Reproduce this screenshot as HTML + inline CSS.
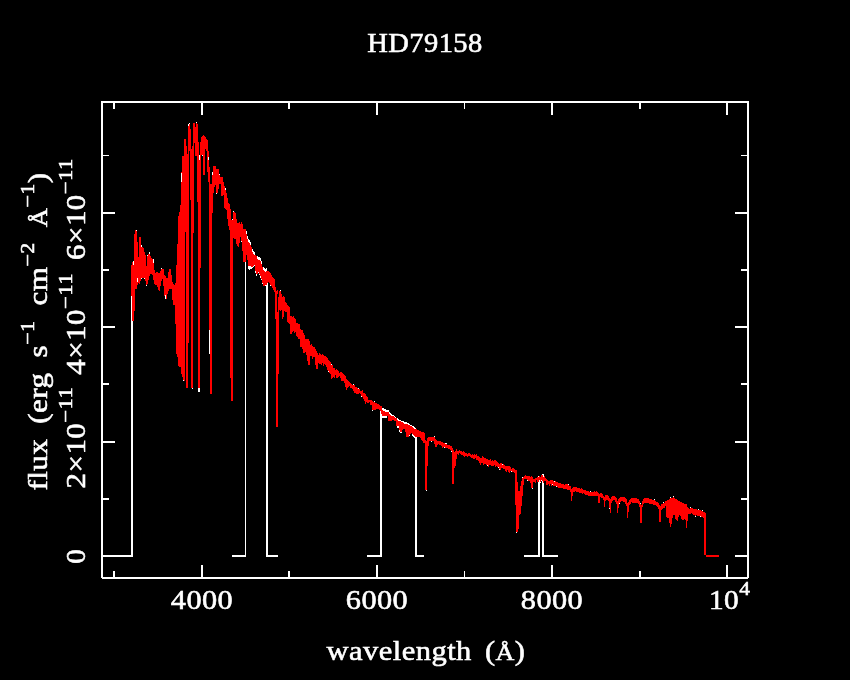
<!DOCTYPE html>
<html><head><meta charset="utf-8"><title>HD79158</title>
<style>
html,body{margin:0;padding:0;background:#000;}
body{width:850px;height:680px;overflow:hidden;}
svg{display:block;}
text{font-family:'Liberation Serif',serif;}
</style></head><body>
<svg width="850" height="680" viewBox="0 0 850 680">
<rect width="850" height="680" fill="#000"/>
<g shape-rendering="crispEdges">
<path fill="#fff" d="M101 101h648v2h-648zM101 577h648v2h-648zM101 101h2v478h-2zM747 101h2v478h-2zM113 571h2v6h-2zM113 103h2v6h-2zM201 565h2v12h-2zM201 103h2v12h-2zM288 571h2v6h-2zM288 103h2v6h-2zM376 565h2v12h-2zM376 103h2v12h-2zM464 571h1v6h-1zM464 103h1v6h-1zM551 565h2v12h-2zM551 103h2v12h-2zM639 571h2v6h-2zM639 103h2v6h-2zM726 565h2v12h-2zM726 103h2v12h-2zM103 555h12v2h-12zM735 555h12v2h-12zM103 498h6v2h-6zM741 498h6v2h-6zM103 441h12v2h-12zM735 441h12v2h-12zM103 383h6v2h-6zM741 383h6v2h-6zM103 326h12v2h-12zM735 326h12v2h-12zM103 269h6v2h-6zM741 269h6v2h-6zM103 212h12v2h-12zM735 212h12v2h-12zM103 155h6v1h-6zM741 155h6v1h-6z"/>
<path fill="#000" d="M748 578h1v1h-1zM101 578h1v1h-1z"/>
<path fill="#fff" d="M102 555h31v2h-31zM131 296h2v261h-2zM232 555h14v2h-14zM245 250h1v307h-1zM266 555h12v2h-12zM266 282h2v275h-2zM367 555h15v2h-15zM380 408h2v149h-2zM415 555h9v2h-9zM415 434h2v123h-2zM524 555h16v2h-16zM538 476h2v81h-2zM542 555h16v2h-16zM542 474h2v83h-2zM382 408h1v3h-1zM383 408h1v4h-1zM384 409h1v3h-1zM385 409h1v4h-1zM386 410h1v3h-1zM387 410h1v3h-1zM388 410h1v3h-1zM389 412h1v3h-1zM390 413h1v3h-1zM391 414h1v3h-1zM392 415h1v2h-1zM393 415h1v2h-1zM394 416h1v2h-1zM395 417h1v2h-1zM396 418h1v1h-1zM397 418h1v3h-1zM398 419h1v3h-1zM399 420h1v2h-1zM400 420h1v2h-1zM401 421h1v2h-1zM402 421h1v2h-1zM403 421h1v3h-1zM404 422h1v3h-1zM405 422h1v3h-1zM406 422h1v3h-1zM407 423h1v2h-1zM408 423h1v3h-1zM409 424h1v2h-1zM410 425h1v2h-1zM411 425h1v2h-1zM412 426h1v2h-1zM413 426h1v3h-1zM414 427h1v3h-1zM415 428h1v2h-1zM416 429h1v1h-1zM382 415h1v3h-1zM383 415h1v3h-1zM384 415h1v3h-1zM385 415h1v3h-1zM386 415h1v3h-1zM397 425h1v3h-1zM398 425h1v3h-1zM399 429h1v3h-1zM400 431h1v2h-1zM401 431h1v2h-1zM412 433h1v3h-1zM413 434h1v3h-1zM414 435h1v3h-1zM415 436h1v3h-1zM416 436h1v3h-1zM246 231h1v4h-1zM247 236h1v4h-1zM248 239h1v4h-1zM249 240h1v4h-1zM250 242h1v4h-1zM252 249h1v4h-1zM253 251h1v4h-1zM254 252h1v4h-1zM257 256h1v4h-1zM258 257h1v4h-1zM259 257h1v4h-1zM260 258h1v4h-1zM261 261h1v4h-1zM263 267h1v4h-1zM264 268h1v4h-1zM265 269h1v4h-1zM266 268h1v4h-1zM248 265h1v4h-1zM249 265h1v5h-1zM250 265h1v4h-1zM251 266h1v3h-1zM252 266h1v2h-1zM253 265h1v2h-1zM255 270h1v3h-1zM256 273h1v3h-1zM258 271h1v2h-1zM259 273h1v2h-1zM260 275h1v3h-1zM261 278h1v2h-1zM262 282h1v2h-1zM136 230h1v2h-1zM141 277h1v2h-1zM144 277h1v2h-1zM146 284h1v2h-1zM147 255h1v2h-1zM161 268h1v2h-1zM183 379h1v2h-1zM189 123h1v2h-1zM192 387h1v2h-1zM202 154h1v2h-1zM216 192h1v2h-1zM219 174h1v2h-1zM232 219h1v2h-1zM233 211h1v2h-1zM241 240h1v2h-1zM254 264h1v2h-1zM260 260h1v2h-1zM265 284h1v2h-1zM270 284h1v2h-1zM280 290h1v2h-1zM328 370h1v2h-1zM331 364h1v2h-1zM353 384h1v2h-1zM358 388h1v2h-1zM361 395h1v2h-1zM372 409h1v2h-1zM374 401h1v2h-1zM385 415h1v2h-1zM390 414h1v2h-1zM409 434h1v2h-1zM415 428h1v2h-1zM426 489h1v2h-1zM431 440h1v2h-1zM434 436h1v2h-1zM444 446h1v2h-1zM445 443h1v2h-1zM446 443h1v2h-1zM451 450h1v2h-1zM487 464h1v2h-1zM498 466h1v2h-1zM499 468h1v2h-1zM502 464h1v2h-1zM511 470h1v2h-1zM516 531h1v2h-1zM522 477h1v2h-1zM527 479h1v2h-1zM532 487h1v2h-1zM540 481h1v2h-1zM541 479h1v2h-1zM543 476h1v2h-1zM552 483h1v2h-1zM554 481h1v2h-1zM556 485h1v2h-1zM568 484h1v2h-1zM590 491h1v2h-1zM609 507h1v2h-1zM619 502h1v2h-1zM640 503h1v2h-1zM654 499h1v2h-1zM663 502h1v2h-1zM670 497h1v2h-1zM673 496h1v2h-1zM690 507h1v2h-1zM695 515h1v2h-1zM698 509h1v2h-1zM700 515h1v2h-1zM702 510h1v2h-1zM209 326h1v28h-1zM198 388h2v4h-2z"/>
<path fill="#f00" d="M131 265v31h1v-31zM132 262v59h1v-59zM133 261v60h1v-60zM134 234v77h1v-77zM135 230v59h1v-59zM136 231v58h1v-58zM137 242v43h1v-43zM138 257v26h1v-26zM139 237v47h1v-47zM140 237v44h1v-44zM141 246v32h1v-32zM142 247v31h1v-31zM143 248v30h1v-30zM144 252v26h1v-26zM145 255v26h1v-26zM146 266v19h1v-19zM147 256v28h1v-28zM148 254v26h1v-26zM149 252v24h1v-24zM150 256v18h1v-18zM151 258v16h1v-16zM152 259v16h1v-16zM153 260v20h1v-20zM154 270v14h1v-14zM155 273v12h1v-12zM156 272v13h1v-13zM157 272v15h1v-15zM158 273v17h1v-17zM159 273v18h1v-18zM160 271v15h1v-15zM161 269v12h1v-12zM162 269v10h1v-10zM163 269v17h1v-17zM164 275v21h1v-21zM165 276v23h1v-23zM166 278v21h1v-21zM167 278v16h1v-16zM168 272v19h1v-19zM169 269v20h1v-20zM170 269v20h1v-20zM171 275v14h1v-14zM172 282v18h1v-18zM173 284v21h1v-21zM174 285v20h1v-20zM175 283v41h1v-41zM176 265v89h1v-89zM177 244v113h1v-113zM178 216v150h1v-150zM179 212v155h1v-155zM180 205v162h1v-162zM181 172v202h1v-202zM182 156v221h1v-221zM183 156v224h1v-224zM184 139v242h1v-242zM185 139v93h1v-93zM186 146v242h1v-242zM187 154v234h1v-234zM188 124v219h1v-219zM189 124v27h1v-27zM190 129v71h1v-71zM191 149v239h1v-239zM192 146v242h1v-242zM193 123v110h1v-110zM194 123v20h1v-20zM195 127v29h1v-29zM196 123v33h1v-33zM197 124v78h1v-78zM198 142v246h1v-246zM199 155v233h1v-233zM200 142v126h1v-126zM201 137v18h1v-18zM202 136v19h1v-19zM203 135v40h1v-40zM204 136v39h1v-39zM205 137v12h1v-12zM206 139v12h1v-12zM207 140v32h1v-32zM208 151v31h1v-31zM209 167v163h1v-163zM210 184v210h1v-210zM211 184v210h1v-210zM212 172v41h1v-41zM213 166v27h1v-27zM214 166v21h1v-21zM215 166v19h1v-19zM216 169v24h1v-24zM217 169v24h1v-24zM218 169v20h1v-20zM219 175v9h1v-9zM220 177v7h1v-7zM221 177v19h1v-19zM222 177v19h1v-19zM223 182v13h1v-13zM224 186v22h1v-22zM225 189v20h1v-20zM226 193v17h1v-17zM227 198v21h1v-21zM228 203v23h1v-23zM229 204v26h1v-26zM230 209v169h1v-169zM231 220v181h1v-181zM232 220v181h1v-181zM233 212v26h1v-26zM234 212v27h1v-27zM235 213v26h1v-26zM236 219v25h1v-25zM237 223v23h1v-23zM238 223v24h1v-24zM239 222v21h1v-21zM240 224v13h1v-13zM241 222v19h1v-19zM242 224v27h1v-27zM243 229v33h1v-33zM244 229v33h1v-33zM245 229v33h1v-33zM246 234v21h1v-21zM247 239v21h1v-21zM248 242v24h1v-24zM249 243v23h1v-23zM250 245v21h1v-21zM251 247v20h1v-20zM252 252v15h1v-15zM253 254v12h1v-12zM254 255v10h1v-10zM255 255v16h1v-16zM256 256v18h1v-18zM257 259v15h1v-15zM258 260v12h1v-12zM259 260v14h1v-14zM260 261v15h1v-15zM261 264v15h1v-15zM262 267v16h1v-16zM263 270v16h1v-16zM264 271v15h1v-15zM265 272v13h1v-13zM266 271v14h1v-14zM267 271v12h1v-12zM268 271v11h1v-11zM269 272v11h1v-11zM270 273v12h1v-12zM271 275v11h1v-11zM272 277v11h1v-11zM273 278v12h1v-12zM274 279v13h1v-13zM275 287v32h1v-32zM276 291v136h1v-136zM277 290v4h1v-4zM277 312v115h1v-115zM278 297v77h1v-77zM279 291v19h1v-19zM280 291v20h1v-20zM281 294v16h1v-16zM282 297v22h1v-22zM283 296v21h1v-21zM284 297v14h1v-14zM285 302v10h1v-10zM286 303v9h1v-9zM287 305v17h1v-17zM288 306v17h1v-17zM289 307v17h1v-17zM290 316v18h1v-18zM291 316v18h1v-18zM292 317v15h1v-15zM293 316v15h1v-15zM294 318v15h1v-15zM295 319v13h1v-13zM296 323v13h1v-13zM297 323v14h1v-14zM298 324v15h1v-15zM299 324v15h1v-15zM300 329v18h1v-18zM301 330v17h1v-17zM302 330v19h1v-19zM303 333v20h1v-20zM304 335v18h1v-18zM305 339v13h1v-13zM306 339v16h1v-16zM307 339v22h1v-22zM308 339v26h1v-26zM309 341v24h1v-24zM310 345v11h1v-11zM311 344v12h1v-12zM312 346v13h1v-13zM313 347v10h1v-10zM314 347v10h1v-10zM315 349v16h1v-16zM316 351v18h1v-18zM317 353v16h1v-16zM318 355v8h1v-8zM319 353v11h1v-11zM320 354v10h1v-10zM321 355v10h1v-10zM322 354v9h1v-9zM323 355v11h1v-11zM324 356v8h1v-8zM325 356v9h1v-9zM326 357v10h1v-10zM327 358v12h1v-12zM328 360v11h1v-11zM329 361v12h1v-12zM330 362v12h1v-12zM331 365v14h1v-14zM332 365v13h1v-13zM333 368v9h1v-9zM334 368v10h1v-10zM335 370v5h1v-5zM336 369v9h1v-9zM337 370v8h1v-8zM338 371v6h1v-6zM339 373v3h1v-3zM340 372v6h1v-6zM341 372v9h1v-9zM342 373v8h1v-8zM343 374v7h1v-7zM344 375v8h1v-8zM345 376v11h1v-11zM346 379v11h1v-11zM347 380v8h1v-8zM348 381v6h1v-6zM349 382v4h1v-4zM350 383v5h1v-5zM351 384v4h1v-4zM352 385v4h1v-4zM353 385v6h1v-6zM354 385v8h1v-8zM355 387v6h1v-6zM356 387v7h1v-7zM357 388v6h1v-6zM358 389v5h1v-5zM359 389v4h1v-4zM360 391v3h1v-3zM361 391v5h1v-5zM362 390v7h1v-7zM363 393v6h1v-6zM364 393v8h1v-8zM365 394v10h1v-10zM366 396v6h1v-6zM367 397v6h1v-6zM368 400v3h1v-3zM369 400v2h1v-2zM370 400v5h1v-5zM371 400v5h1v-5zM372 401v9h1v-9zM373 402v8h1v-8zM374 402v8h1v-8zM375 403v7h1v-7zM376 403v6h1v-6zM377 404v5h1v-5zM378 404v5h1v-5zM379 405v5h1v-5zM380 406v5h1v-5zM381 406v8h1v-8zM382 410v6h1v-6zM383 411v5h1v-5zM384 411v5h1v-5zM385 412v4h1v-4zM386 412v4h1v-4zM387 412v4h1v-4zM388 412v9h1v-9zM389 414v7h1v-7zM390 415v6h1v-6zM391 416v5h1v-5zM392 416v4h1v-4zM393 416v4h1v-4zM394 417v4h1v-4zM395 418v3h1v-3zM396 418v8h1v-8zM397 420v6h1v-6zM398 421v5h1v-5zM399 421v9h1v-9zM400 421v11h1v-11zM401 422v10h1v-10zM402 422v8h1v-8zM403 423v6h1v-6zM404 424v5h1v-5zM405 424v8h1v-8zM406 424v13h1v-13zM407 424v13h1v-13zM408 425v12h1v-12zM409 425v10h1v-10zM410 426v8h1v-8zM411 426v7h1v-7zM412 427v7h1v-7zM413 428v7h1v-7zM414 429v7h1v-7zM415 429v8h1v-8zM416 429v8h1v-8zM417 430v7h1v-7zM418 430v7h1v-7zM419 431v6h1v-6zM420 431v7h1v-7zM421 432v8h1v-8zM422 432v9h1v-9zM423 432v11h1v-11zM424 433v10h1v-10zM425 440v50h1v-50zM426 441v49h1v-49zM427 438v28h1v-28zM428 437v9h1v-9zM429 437v4h1v-4zM430 437v4h1v-4zM431 437v4h1v-4zM432 437v4h1v-4zM433 437v4h1v-4zM434 437v7h1v-7zM435 439v8h1v-8zM436 440v7h1v-7zM437 441v4h1v-4zM438 441v3h1v-3zM439 441v4h1v-4zM440 441v4h1v-4zM441 442v4h1v-4zM442 442v6h1v-6zM443 443v4h1v-4zM444 443v4h1v-4zM445 444v4h1v-4zM446 444v4h1v-4zM447 445v3h1v-3zM448 445v4h1v-4zM449 445v4h1v-4zM450 446v4h1v-4zM451 446v5h1v-5zM452 448v36h1v-36zM453 450v34h1v-34zM454 452v16h1v-16zM455 451v15h1v-15zM456 449v10h1v-10zM457 451v3h1v-3zM458 451v4h1v-4zM459 450v3h1v-3zM460 451v3h1v-3zM461 451v4h1v-4zM462 452v3h1v-3zM463 451v5h1v-5zM464 452v5h1v-5zM465 453v3h1v-3zM466 453v3h1v-3zM467 454v3h1v-3zM468 453v3h1v-3zM469 453v3h1v-3zM470 454v3h1v-3zM471 455v3h1v-3zM472 454v4h1v-4zM473 455v4h1v-4zM474 454v5h1v-5zM475 455v3h1v-3zM476 454v6h1v-6zM477 456v4h1v-4zM478 456v5h1v-5zM479 457v6h1v-6zM480 458v7h1v-7zM481 458v5h1v-5zM482 456v7h1v-7zM483 457v8h1v-8zM484 458v6h1v-6zM485 458v6h1v-6zM486 459v6h1v-6zM487 459v6h1v-6zM488 460v7h1v-7zM489 460v5h1v-5zM490 459v6h1v-6zM491 461v5h1v-5zM492 460v6h1v-6zM493 461v5h1v-5zM494 460v5h1v-5zM495 460v7h1v-7zM496 461v5h1v-5zM497 462v5h1v-5zM498 463v4h1v-4zM499 464v5h1v-5zM500 463v7h1v-7zM501 463v5h1v-5zM502 465v3h1v-3zM503 464v5h1v-5zM504 465v4h1v-4zM505 466v5h1v-5zM506 466v6h1v-6zM507 466v4h1v-4zM508 466v6h1v-6zM509 466v7h1v-7zM510 467v4h1v-4zM511 469v2h1v-2zM512 468v4h1v-4zM513 468v4h1v-4zM514 469v4h1v-4zM515 470v35h1v-35zM516 470v62h1v-62zM517 482v50h1v-50zM518 491v38h1v-38zM519 491v24h1v-24zM520 486v28h1v-28zM521 481v25h1v-25zM522 478v18h1v-18zM523 477v8h1v-8zM524 476v3h1v-3zM525 475v4h1v-4zM526 476v3h1v-3zM527 476v4h1v-4zM528 476v5h1v-5zM529 476v5h1v-5zM530 477v6h1v-6zM531 476v12h1v-12zM532 477v11h1v-11zM533 479v3h1v-3zM534 479v3h1v-3zM535 478v5h1v-5zM536 478v2h1v-2zM537 477v5h1v-5zM538 477v5h1v-5zM539 476v4h1v-4zM540 477v5h1v-5zM541 475v5h1v-5zM542 475v6h1v-6zM543 477v6h1v-6zM544 476v5h1v-5zM545 478v3h1v-3zM546 479v6h1v-6zM547 480v5h1v-5zM548 481v3h1v-3zM549 481v5h1v-5zM550 480v4h1v-4zM551 480v6h1v-6zM552 480v4h1v-4zM553 481v5h1v-5zM554 482v4h1v-4zM555 481v5h1v-5zM556 482v4h1v-4zM557 482v5h1v-5zM558 483v5h1v-5zM559 483v5h1v-5zM560 483v5h1v-5zM561 484v4h1v-4zM562 484v4h1v-4zM563 484v5h1v-5zM564 485v4h1v-4zM565 484v5h1v-5zM566 484v5h1v-5zM567 484v6h1v-6zM568 485v5h1v-5zM569 486v4h1v-4zM570 486v6h1v-6zM571 489v12h1v-12zM572 488v8h1v-8zM573 487v5h1v-5zM574 487v5h1v-5zM575 487v4h1v-4zM576 487v5h1v-5zM577 488v4h1v-4zM578 488v4h1v-4zM579 488v5h1v-5zM580 489v4h1v-4zM581 488v5h1v-5zM582 489v5h1v-5zM583 490v3h1v-3zM584 490v4h1v-4zM585 490v5h1v-5zM586 491v4h1v-4zM587 491v4h1v-4zM588 491v5h1v-5zM589 492v4h1v-4zM590 492v4h1v-4zM591 492v4h1v-4zM592 492v4h1v-4zM593 492v4h1v-4zM594 491v5h1v-5zM595 492v4h1v-4zM596 491v5h1v-5zM597 492v4h1v-4zM598 493v10h1v-10zM599 494v9h1v-9zM600 493v4h1v-4zM601 493v5h1v-5zM602 494v4h1v-4zM603 496v4h1v-4zM604 497v10h1v-10zM605 495v6h1v-6zM606 495v5h1v-5zM607 495v5h1v-5zM608 496v5h1v-5zM609 498v10h1v-10zM610 499v14h1v-14zM611 497v6h1v-6zM612 496v5h1v-5zM613 496v4h1v-4zM614 496v4h1v-4zM615 497v5h1v-5zM616 498v6h1v-6zM617 501v12h1v-12zM618 499v9h1v-9zM619 498v5h1v-5zM620 497v5h1v-5zM621 497v4h1v-4zM622 497v4h1v-4zM623 497v5h1v-5zM624 497v5h1v-5zM625 498v6h1v-6zM626 499v7h1v-7zM627 503v15h1v-15zM628 502v10h1v-10zM629 500v5h1v-5zM630 499v5h1v-5zM631 498v4h1v-4zM632 498v5h1v-5zM633 498v5h1v-5zM634 498v5h1v-5zM635 498v5h1v-5zM636 498v5h1v-5zM637 499v4h1v-4zM638 499v5h1v-5zM639 501v6h1v-6zM640 504v19h1v-19zM641 505v18h1v-18zM642 501v6h1v-6zM643 499v5h1v-5zM644 498v5h1v-5zM645 498v5h1v-5zM646 498v5h1v-5zM647 498v5h1v-5zM648 498v5h1v-5zM649 499v5h1v-5zM650 499v5h1v-5zM651 499v5h1v-5zM652 500v4h1v-4zM653 500v5h1v-5zM654 500v5h1v-5zM655 501v4h1v-4zM656 502v4h1v-4zM657 502v5h1v-5zM658 503v6h1v-6zM659 505v17h1v-17zM660 506v16h1v-16zM661 504v6h1v-6zM662 504v5h1v-5zM663 503v5h1v-5zM664 503v5h1v-5zM665 501v5h1v-5zM666 501v16h1v-16zM667 500v18h1v-18zM668 500v18h1v-18zM669 499v24h1v-24zM670 498v29h1v-29zM671 498v26h1v-26zM672 498v20h1v-20zM673 497v18h1v-18zM674 498v17h1v-17zM675 499v20h1v-20zM676 499v21h1v-21zM677 500v21h1v-21zM678 501v16h1v-16zM679 501v14h1v-14zM680 502v14h1v-14zM681 502v17h1v-17zM682 503v17h1v-17zM683 503v17h1v-17zM684 504v15h1v-15zM685 504v16h1v-16zM686 504v24h1v-24zM687 507v14h1v-14zM688 508v6h1v-6zM689 509v5h1v-5zM690 508v6h1v-6zM691 508v5h1v-5zM692 508v6h1v-6zM693 509v6h1v-6zM694 509v6h1v-6zM695 509v7h1v-7zM696 509v6h1v-6zM697 510v6h1v-6zM698 510v6h1v-6zM699 510v6h1v-6zM700 510v6h1v-6zM701 511v6h1v-6zM702 511v6h1v-6zM703 512v6h1v-6zM704 512v45h1v-45zM705 513v44h1v-44zM704 555h15v2h-15z"/>
<path fill="#fff" d="M188 124h1v2h-1zM196 122h1v1h-1zM199 155h1v5h-1zM208 157h1v3h-1zM212 172h1v3h-1zM225 188h1v2h-1zM181 173h1v9h-1zM133 261h1v4h-1zM141 245h1v2h-1zM149 252h1v2h-1zM153 259h1v4h-1zM137 278h1v4h-1zM165 295h1v4h-1z"/>
</g>
<g fill="#fff" stroke="#fff" stroke-width="0.55">
<g transform="translate(425 52.4) rotate(0) scale(1.0491 1)"><text id="title" x="0" y="0" font-size="27.2" text-anchor="middle" letter-spacing="0.4" word-spacing="0">HD79158</text></g>
<g transform="translate(202 608.5) rotate(0) scale(1.1436 1)"><text id="x4" x="0" y="0" font-size="26.5" text-anchor="middle" letter-spacing="0.4" word-spacing="0">4000</text></g>
<g transform="translate(377 608.5) rotate(0) scale(1.1436 1)"><text id="x6" x="0" y="0" font-size="26.5" text-anchor="middle" letter-spacing="0.4" word-spacing="0">6000</text></g>
<g transform="translate(552 608.5) rotate(0) scale(1.1436 1)"><text id="x8" x="0" y="0" font-size="26.5" text-anchor="middle" letter-spacing="0.4" word-spacing="0">8000</text></g>
<g transform="translate(729.7 608.5) rotate(0) scale(1.1063 1)"><text id="x10" x="0" y="0" font-size="26.5" text-anchor="middle" letter-spacing="0.4" word-spacing="0">10<tspan font-size="19.5" dy="-13.3">4</tspan><tspan dy="13.3" font-size="1">&#8203;</tspan></text></g>
<g transform="translate(426.0 659.5) rotate(0) scale(1.1113 1)"><text id="xl" x="0" y="0" font-size="27.5" text-anchor="middle" letter-spacing="0.4" word-spacing="4.5">wavelength (<tspan font-size="23.5">&#197;</tspan>)</text></g>
<g transform="translate(85.0 556.3) rotate(-90) scale(1.1021 1)"><text id="y0" x="0" y="0" font-size="26.5" text-anchor="middle" letter-spacing="0.4" word-spacing="0">0</text></g>
<g transform="translate(85.0 437.5) rotate(-90) scale(1.1681 1)"><text id="y2" x="0" y="0" font-size="26.5" text-anchor="middle" letter-spacing="0.4" word-spacing="0">2&#215;10<tspan font-size="19.5" dy="-13.3">&#8722;11</tspan><tspan dy="13.3" font-size="1">&#8203;</tspan></text></g>
<g transform="translate(85.0 323.8) rotate(-90) scale(1.1681 1)"><text id="y4" x="0" y="0" font-size="26.5" text-anchor="middle" letter-spacing="0.4" word-spacing="0">4&#215;10<tspan font-size="19.5" dy="-13.3">&#8722;11</tspan><tspan dy="13.3" font-size="1">&#8203;</tspan></text></g>
<g transform="translate(85.0 209) rotate(-90) scale(1.1681 1)"><text id="y6" x="0" y="0" font-size="26.5" text-anchor="middle" letter-spacing="0.4" word-spacing="0">6&#215;10<tspan font-size="19.5" dy="-13.3">&#8722;11</tspan><tspan dy="13.3" font-size="1">&#8203;</tspan></text></g>
<g transform="translate(47.0 331.5) rotate(-90) scale(1.1312 1)"><text id="yl" x="0" y="0" font-size="27.5" text-anchor="middle" letter-spacing="0.4" word-spacing="6.0">flux (erg s<tspan font-size="19.5" dy="-13.3">&#8722;1</tspan><tspan dy="13.3" font-size="1">&#8203;</tspan> cm<tspan font-size="19.5" dy="-13.3">&#8722;2</tspan><tspan dy="13.3" font-size="1">&#8203;</tspan> <tspan font-size="23.5">&#197;</tspan><tspan font-size="19.5" dy="-13.3">&#8722;1</tspan><tspan dy="13.3" font-size="1">&#8203;</tspan>)</text></g>
</g>
</svg>
</body></html>
